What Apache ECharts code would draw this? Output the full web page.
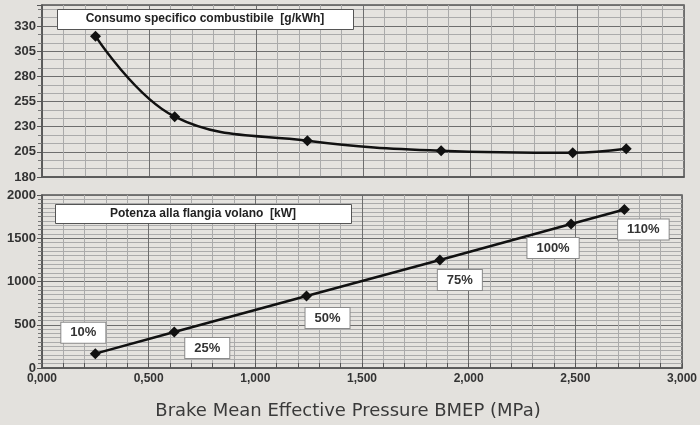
<!DOCTYPE html>
<html><head><meta charset="utf-8">
<script src="https://cdn.jsdelivr.net/npm/echarts@6/dist/echarts.min.js"></script>
<style>html,body{margin:0;padding:0;background:#e3e1dd;}#c{width:700px;height:425px;}</style>
</head><body><div id="c"></div>
<script>
// Data
var bmep = [0.25, 0.62, 1.24, 1.865, 2.48, 2.73];
var consumo = [320, 240, 216, 206, 204, 208];
var potenza = [166, 416, 833, 1249, 1665, 1832];
var loadLabels = ['10%', '25%', '50%', '75%', '100%', '110%'];
var topTitle = 'Consumo specifico combustibile  [g/kWh]';
var botTitle = 'Potenza alla flangia volano  [kW]';
var xTitle = 'Brake Mean Effective Pressure BMEP (MPa)';

// Label layout (style, not data)
var labelOffsets = [[-12,-21],[33,16],[21,22],[20,20],[-18,24],[19,20]];

var chart = echarts.init(document.getElementById('c'));
var font = 'Liberation Sans, Arial, sans-serif';
var major = '#6e6e6e', minor = '#ababab';

function xAxis(idx, showLabels){
  return {
    type:'value', gridIndex:idx, min:0, max:3, interval:0.5,
    axisLine:{show:true, lineStyle:{color:'#555', width:1.5}},
    axisTick:{show:showLabels, inside:true, length:5, lineStyle:{color:'#555'}},
    minorTick:{show:showLabels, splitNumber:5, length:5, lineStyle:{color:'#555'}},
    splitLine:{show:true, lineStyle:{color:major, width:1}},
    minorSplitLine:{show:true, lineStyle:{color:minor, width:1}},
    axisLabel:{show:showLabels, color:'#333', fontWeight:'bold', fontSize:12, fontFamily:font, margin:5,
      formatter:function(v){return v.toFixed(3).replace('.',',');}}
  };
}

var option = {
  backgroundColor:'#e3e1dd',
  animation:false,
  grid:[
    {left:42, top:5, width:642, height:172, show:true, borderColor:'#555', borderWidth:1.5, backgroundColor:'#e5e3df'},
    {left:42, top:195, width:642, height:173, show:true, borderColor:'#555', borderWidth:1.5, backgroundColor:'#e5e3df'}
  ],
  xAxis:[xAxis(0,false), xAxis(1,true)],
  yAxis:[
    {type:'value', gridIndex:0, min:180, max:351, interval:25,
     axisLine:{show:true, lineStyle:{color:'#555', width:1.5}},
     axisTick:{show:true, length:5, lineStyle:{color:'#555'}},
     minorTick:{show:true, splitNumber:3, length:4, lineStyle:{color:'#777'}},
     splitLine:{show:true, lineStyle:{color:major}},
     minorSplitLine:{show:true, lineStyle:{color:minor}},
     axisLabel:{color:'#333', fontWeight:'bold', fontSize:13, fontFamily:font, margin:6, showMaxLabel:false,
       formatter:function(v){return v>340?'':String(v);}}
    },
    {type:'value', gridIndex:1, min:0, max:2000, interval:500,
     axisLine:{show:true, lineStyle:{color:'#555', width:1.5}},
     axisTick:{show:true, length:5, lineStyle:{color:'#555'}},
     minorTick:{show:true, splitNumber:10, length:4, lineStyle:{color:'#777'}},
     splitLine:{show:true, lineStyle:{color:major}},
     minorSplitLine:{show:true, lineStyle:{color:minor}},
     axisLabel:{color:'#333', fontWeight:'bold', fontSize:13, fontFamily:font, margin:6,
       formatter:function(v){return String(v);}}
    }
  ],
  series:[
    {type:'line', xAxisIndex:0, yAxisIndex:0, smooth:0.4,
     data:bmep.map(function(x,i){return [x, consumo[i]];}),
     symbol:'diamond', symbolSize:11,
     lineStyle:{color:'#111', width:2.5}, itemStyle:{color:'#111'}},
    {type:'line', xAxisIndex:1, yAxisIndex:1,
     data:bmep.map(function(x,i){
       return {value:[x, potenza[i]], label:{show:true, position:'inside', offset:labelOffsets[i], formatter:loadLabels[i]}};
     }),
     symbol:'diamond', symbolSize:11,
     lineStyle:{color:'#111', width:2.5}, itemStyle:{color:'#111'},
     label:{color:'#333', fontWeight:'bold', fontSize:13, fontFamily:font, backgroundColor:'#fff',
       borderColor:'#8a8a8a', borderWidth:1, padding:[4,9,3,9]}
    }
  ],
  graphic:[
    {type:'rect', left:57, top:9, shape:{width:296, height:20}, style:{fill:'#fff', stroke:'#555', lineWidth:1}, z:100},
    {type:'text', x:205, y:19, style:{text:topTitle, fill:'#222', font:'bold 12px '+font, textAlign:'center', textVerticalAlign:'middle'}, z:101},
    {type:'rect', left:55, top:204, shape:{width:296, height:19}, style:{fill:'#fff', stroke:'#555', lineWidth:1}, z:100},
    {type:'text', x:203, y:214, style:{text:botTitle, fill:'#222', font:'bold 12px '+font, textAlign:'center', textVerticalAlign:'middle'}, z:101},
    {type:'text', x:348, y:411, style:{text:xTitle, fill:'#3a3a3a', font:'18px DejaVu Sans, sans-serif', textAlign:'center', textVerticalAlign:'middle'}, z:101}
  ]
};
chart.setOption(option);
</script></body></html>
